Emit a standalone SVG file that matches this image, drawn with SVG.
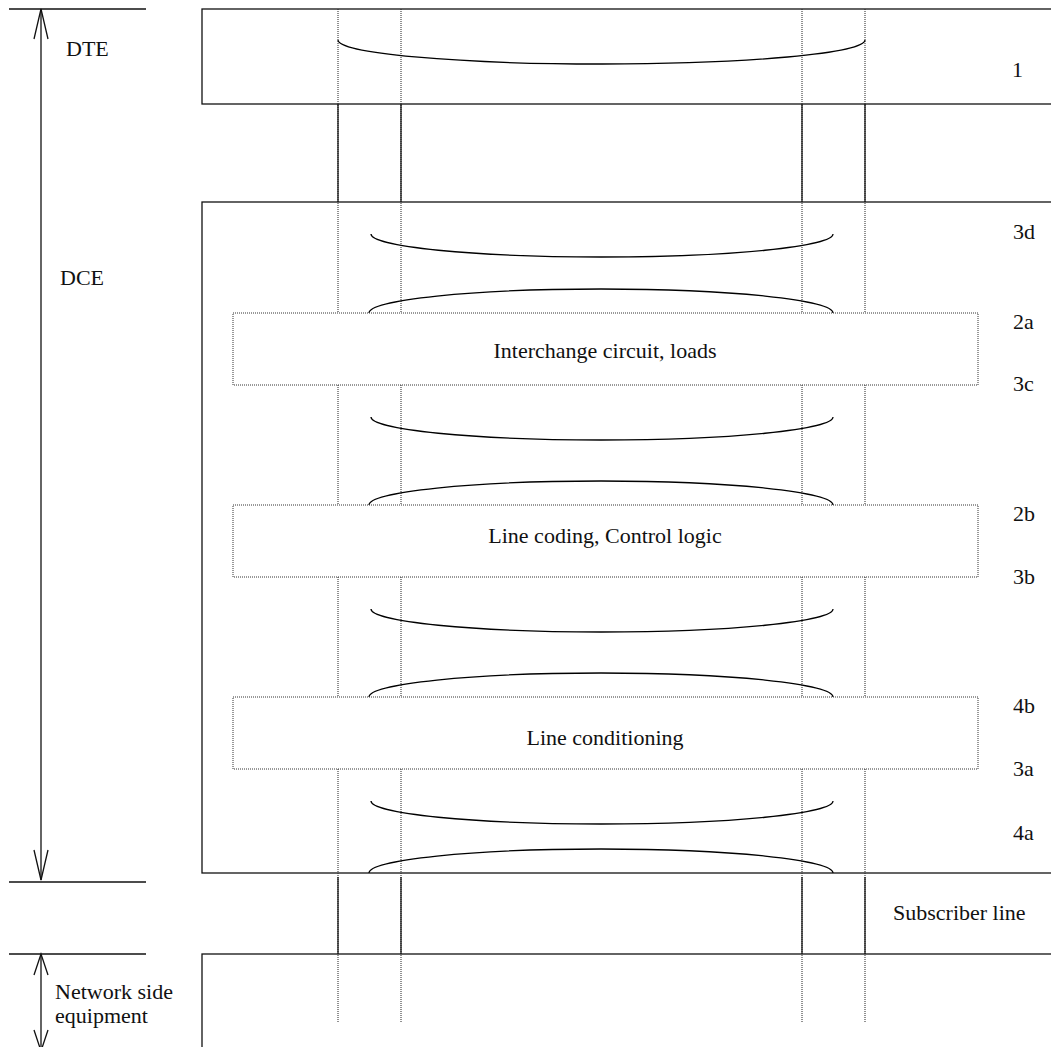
<svg xmlns="http://www.w3.org/2000/svg" width="1051" height="1047" viewBox="0 0 1051 1047">
<style>
.bg{fill:#fff}
.ln{stroke:#111;stroke-width:1.3;fill:none}
.box{stroke:#111;stroke-width:1.3;fill:#fff}
.dot{stroke:#222;stroke-width:1;stroke-dasharray:1 1;fill:none}
.dbox{stroke:#333;stroke-width:1;stroke-dasharray:1 1;fill:#fff}
.arc{stroke:#000;stroke-width:1.3;fill:none}
.t{font-size:22px;fill:#111}
.c{text-anchor:middle}
</style>
<rect class="bg" x="0" y="0" width="1051" height="1047"/>

<g font-family="'Liberation Serif', 'Times New Roman', serif">
<g id="dte-box"><rect class="box" x="202" y="9" width="860" height="95"/><text class="t" x="1012" y="77">1</text></g>
<g id="dce-box"><rect class="box" x="202" y="202" width="860" height="671"/></g>
<g id="network-box"><rect class="box" x="202" y="954" width="860" height="100"/></g>

<g id="connectors">
<line class="dot" x1="338" y1="9" x2="338" y2="1022"/>
<line class="dot" x1="401" y1="9" x2="401" y2="1022"/>
<line class="dot" x1="802" y1="9" x2="802" y2="1022"/>
<line class="dot" x1="865" y1="9" x2="865" y2="1022"/>
<line class="ln" x1="338" y1="104" x2="338" y2="202"/>
<line class="ln" x1="401" y1="104" x2="401" y2="202"/>
<line class="ln" x1="802" y1="104" x2="802" y2="202"/>
<line class="ln" x1="865" y1="104" x2="865" y2="202"/>
<line class="ln" x1="338" y1="877" x2="338" y2="954"/>
<line class="ln" x1="401" y1="877" x2="401" y2="954"/>
<line class="ln" x1="802" y1="877" x2="802" y2="954"/>
<line class="ln" x1="865" y1="877" x2="865" y2="954"/>
<path class="arc" d="M338,40 A263,24 0 0 0 601,64 A263,24 0 0 0 865,40"/>
<path class="arc" d="M371,234 A230,23 0 0 0 601,257 A232,23 0 0 0 833,234"/>
<path class="arc" d="M369,313 A232,24 0 0 1 601,289 A232,24 0 0 1 833,313"/>
<path class="arc" d="M371,417 A230,23 0 0 0 601,440 A232,23 0 0 0 833,417"/>
<path class="arc" d="M369,505 A232,24 0 0 1 601,481 A232,24 0 0 1 833,505"/>
<path class="arc" d="M371,609 A230,23 0 0 0 601,632 A232,23 0 0 0 833,609"/>
<path class="arc" d="M369,697 A232,24 0 0 1 601,673 A232,24 0 0 1 833,697"/>
<path class="arc" d="M371,801 A230,23 0 0 0 601,824 A232,23 0 0 0 833,801"/>
<path class="arc" d="M369,873 A232,24 0 0 1 601,849 A232,24 0 0 1 833,873"/>
<line class="ln" x1="9" y1="9" x2="146" y2="9"/>
<line class="ln" x1="9" y1="882" x2="146" y2="882"/>
<line class="ln" x1="9" y1="954" x2="146" y2="954"/>
<line class="ln" x1="41" y1="9" x2="41" y2="880"/>
<polyline class="ln" points="34,39 41,9 48,39"/>
<polyline class="ln" points="34,850 41,880 48,850"/>
<line class="ln" x1="41" y1="954" x2="41" y2="1051"/>
<polyline class="ln" points="34,975 41,954 48,975"/>
<polyline class="ln" points="34,1030 41,1051 48,1030"/>
</g>

<g id="interchange"><rect class="dbox" x="233" y="313" width="745" height="72"/><text class="t c" x="605" y="358">Interchange circuit, loads</text></g>
<g id="linecoding"><rect class="dbox" x="233" y="505" width="745" height="72"/><text class="t c" x="605" y="543">Line coding, Control logic</text></g>
<g id="lineconditioning"><rect class="dbox" x="233" y="697" width="745" height="72"/><text class="t c" x="605" y="745">Line conditioning</text></g>

<g id="labels">
<text class="t" x="66" y="56">DTE</text>
<text class="t" x="60" y="285">DCE</text>
<text class="t" x="1013" y="239">3d</text>
<text class="t" x="1013" y="329">2a</text>
<text class="t" x="1013" y="391">3c</text>
<text class="t" x="1013" y="521">2b</text>
<text class="t" x="1013" y="584">3b</text>
<text class="t" x="1013" y="713">4b</text>
<text class="t" x="1013" y="776">3a</text>
<text class="t" x="1013" y="840">4a</text>
<text class="t" x="893" y="920">Subscriber line</text>
<text class="t" x="55" y="999">Network side</text>
<text class="t" x="55" y="1023">equipment</text>
</g>
</g>
</svg>
